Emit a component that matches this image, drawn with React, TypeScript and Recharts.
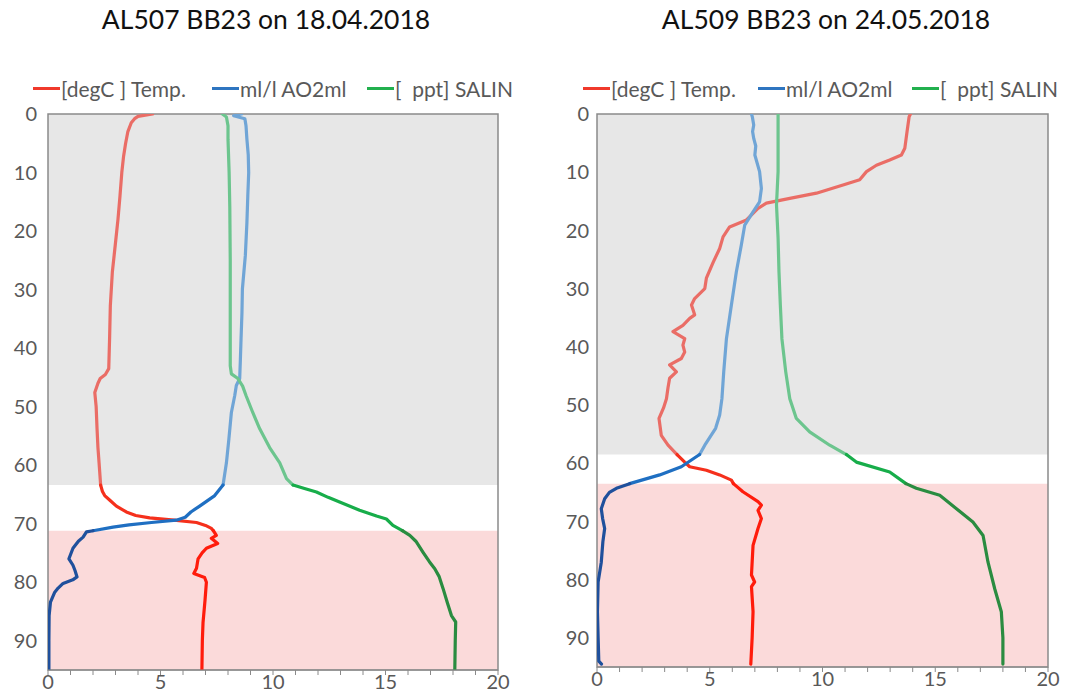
import React from 'react';
import { LineChart, Line, XAxis, YAxis, ReferenceArea } from 'recharts';

// ---------- shared axis ticks ----------
const X_TICKS = [0, 1, 2, 3, 4, 5, 6, 7, 8, 9, 10, 11, 12, 13, 14, 15, 16, 17, 18, 19, 20];
const Y_TICKS = [0, 10, 20, 30, 40, 50, 60, 70, 80, 90];
const LEGEND_LABELS = ['[degC ] Temp.', 'ml/l AO2ml', '[  ppt] SALIN'];

// ---------- left profile: AL507 BB23 on 18.04.2018 ----------
const L_TITLE = 'AL507 BB23 on 18.04.2018';
const L_BANDS = [63.4, 71.2]; // end of grey zone, start of pink zone (depth m)

const L_TEMP_D = [0, 0.4, 0.8, 1.5, 3, 5, 7.2, 10, 14, 18, 22, 27, 32.8, 38, 43.5, 44.5, 45.2, 46, 47.6, 50, 53.8, 57, 59.6, 63.4, 64.5, 65.2, 66, 67, 68, 68.6, 69, 69.4, 69.8, 70.3, 70.8, 71.2, 72, 72.5, 73.4, 74.2, 75, 76, 77.6, 78.5, 79.2, 80, 83, 86.9, 90, 95];
const L_TEMP_V = [4.65, 4.0, 3.85, 3.7, 3.55, 3.45, 3.36, 3.28, 3.2, 3.11, 3.0, 2.86, 2.77, 2.74, 2.7, 2.55, 2.32, 2.22, 2.08, 2.14, 2.18, 2.22, 2.27, 2.34, 2.42, 2.52, 2.75, 3.04, 3.48, 3.9, 4.52, 5.6, 6.6, 7.0, 7.26, 7.35, 7.48, 7.26, 7.54, 7.04, 6.85, 6.67, 6.6, 6.48, 6.96, 7.04, 6.98, 6.89, 6.86, 6.84];

const L_O2_D = [0, 0.3, 0.8, 2, 4.3, 7, 10, 14, 18.6, 24.2, 29.9, 34, 38.4, 42, 45.2, 46.4, 48.1, 51, 55.5, 59.6, 63.4, 65.2, 67, 68, 68.9, 69.4, 69.8, 70.2, 70.6, 71.2, 71.4, 72.3, 73, 74.2, 76, 77.1, 78, 79.1, 79.6, 80.2, 81, 81.7, 83.4, 85.7, 90, 95];
const L_O2_V = [8.6, 8.25, 8.75, 8.8, 8.84, 8.9, 8.92, 8.88, 8.84, 8.77, 8.64, 8.62, 8.58, 8.55, 8.52, 8.37, 8.3, 8.15, 8.04, 7.93, 7.78, 7.41, 6.74, 6.35, 6.1, 5.7, 4.6, 3.6, 2.89, 2.0, 1.71, 1.56, 1.35, 1.11, 0.93, 1.11, 1.2, 1.29, 1.1, 0.67, 0.45, 0.3, 0.11, 0.05, 0.04, 0.04];

const L_SAL_D = [0, 0.5, 2, 4.3, 10, 15.9, 25, 32.8, 43, 44.4, 45.2, 46.5, 48.1, 51, 53.8, 57, 59.6, 62.3, 63.4, 64, 64.6, 65.5, 66.3, 67.7, 68.7, 69.2, 70.3, 71.2, 72, 73, 74.9, 76.5, 77.7, 79, 81.1, 83.5, 85.7, 86.8, 90, 95];
const L_SAL_V = [7.75, 7.93, 8.0, 8.0, 8.05, 8.08, 8.1, 8.1, 8.1, 8.15, 8.44, 8.65, 8.8, 9.1, 9.41, 9.85, 10.3, 10.6, 10.89, 11.4, 11.93, 12.45, 12.96, 13.85, 14.6, 15.04, 15.33, 15.75, 16.08, 16.35, 16.67, 16.95, 17.19, 17.38, 17.56, 17.75, 17.93, 18.12, 18.1, 18.08];

// ---------- right profile: AL509 BB23 on 24.05.2018 ----------
const R_TITLE = 'AL509 BB23 on 24.05.2018';
const R_BANDS = [58.5, 63.5];

const R_TEMP_D = [0, 0.5, 3, 5.9, 7.05, 7.9, 8.8, 9.9, 11.3, 12.2, 13.6, 14.5, 15.3, 16.2, 18.2, 19.4, 21.1, 23.1, 25.5, 28.2, 30, 31.7, 32.8, 34.5, 35.1, 36.3, 37.4, 38.6, 39.7, 40.9, 42, 43.1, 44.3, 45.4, 47, 48.9, 50.5, 52.3, 55.2, 56.9, 58.5, 59.8, 60.6, 61.2, 62, 62.9, 63.5, 64.9, 66.6, 67.2, 68.1, 69.5, 71.2, 74.1, 79.2, 80.4, 81.2, 85.5, 90, 94.5];
const R_TEMP_V = [13.9, 13.84, 13.75, 13.65, 13.5, 12.98, 12.39, 11.95, 11.65, 10.91, 9.73, 8.55, 7.51, 7.14, 6.63, 5.88, 5.59, 5.44, 5.15, 4.85, 4.78, 4.33, 4.19, 4.33, 4.11, 3.81, 3.37, 3.89, 3.81, 3.89, 3.74, 3.22, 3.52, 3.22, 3.15, 3.08, 2.95, 2.75, 2.85, 3.15, 3.55, 3.89, 4.11, 4.85, 5.44, 5.96, 6.05, 6.47, 7.14, 7.29, 7.14, 7.29, 7.14, 6.92, 6.85, 6.99, 6.85, 6.92, 6.88, 6.82];

const R_O2_D = [0, 0.5, 1.9, 3, 4.2, 5.5, 7.05, 9.9, 12.8, 15.1, 16.8, 19.1, 22.5, 27.1, 32.8, 38.6, 44.3, 48.9, 51.7, 54, 56.9, 58.5, 60.6, 62, 63.5, 64.3, 65, 66.1, 67.8, 69.5, 71.2, 73.5, 77, 80.4, 85.5, 90, 94, 94.5];
const R_O2_V = [6.85, 6.89, 6.95, 6.9, 6.95, 7.04, 7.0, 7.21, 7.29, 7.21, 6.92, 6.55, 6.4, 6.18, 5.96, 5.74, 5.62, 5.54, 5.44, 5.26, 4.78, 4.55, 3.74, 2.78, 1.45, 0.86, 0.55, 0.34, 0.19, 0.25, 0.34, 0.26, 0.19, 0.05, 0.02, 0.05, 0.08, 0.2];

const R_SAL_D = [0, 0.5, 9.9, 15.6, 21.3, 27.1, 32.8, 38.6, 44.3, 48.9, 52.3, 54.6, 56.9, 58.5, 59.8, 61.5, 63.5, 64.3, 65.5, 67.8, 70.1, 72.4, 77, 81.6, 85.5, 90, 94.5];
const R_SAL_V = [8.03, 8.03, 8.03, 7.96, 8.03, 8.07, 8.13, 8.2, 8.37, 8.55, 8.84, 9.43, 10.32, 11.06, 11.5, 12.98, 13.7, 14.16, 15.2, 15.94, 16.67, 17.12, 17.34, 17.64, 17.93, 18.0, 18.0];

// ---------- styling ----------
const FONT = 'Lato, "Open Sans", sans-serif';
const TEXT_GREY = '#595959';
const AXIS_GREY = '#8a8a8a';
const BAND_GREY = '#e7e7e7';
const BAND_PINK = '#fbdada';
// colours per series: [in grey zone, in white zone, in pink zone]
const TEMP_COLS = ['#ea6d66', '#f5301c', '#ff1c0c'];
const O2_COLS = ['#70a5d6', '#1f6fc2', '#1f509c'];
const SAL_COLS = ['#6cc58e', '#17ad4a', '#2a8c40'];
const LEGEND_COLS = ['#f0392b', '#2e75c0', '#22b04e'];

type Pt = { d: number; v: number };
const zip = (ds: number[], vs: number[]): Pt[] => ds.map((d, i) => ({ d, v: vs[i] }));
const split = (pts: Pt[], a: number, b: number): Pt[][] => [
  pts.filter((p) => p.d <= a),
  pts.filter((p) => p.d >= a && p.d <= b),
  pts.filter((p) => p.d >= b),
];

type ProfileProps = {
  left: number;
  title: string;
  titleCenter: number;
  bands: number[];
  series: { pts: Pt[]; cols: string[] }[];
  yAxisWidth: number;
  marginRight: number;
  xAxisHeight: number;
  yTickMargin: number;
  legendX: number[];
};

function Profile(p: ProfileProps) {
  const [gEnd, pStart] = p.bands;
  return (
    <div style={{ position: 'absolute', left: p.left, top: 0, width: 533, height: 692 }}>
      <div
        style={{
          position: 'absolute',
          left: p.titleCenter - 250,
          width: 500,
          top: 3,
          textAlign: 'center',
          fontFamily: FONT,
          fontSize: 26.5,
          color: '#111',
          whiteSpace: 'pre',
        }}
      >
        {p.title}
      </div>
      {LEGEND_LABELS.map((lab, i) => (
        <div
          key={lab}
          style={{
            position: 'absolute',
            left: p.legendX[i],
            top: 76,
            height: 24,
            display: 'flex',
            alignItems: 'center',
            fontFamily: FONT,
            fontSize: 21,
            color: TEXT_GREY,
            whiteSpace: 'pre',
          }}
        >
          <span style={{ display: 'inline-block', width: 27, height: 3, background: LEGEND_COLS[i], marginRight: 1 }} />
          {lab}
        </div>
      ))}
      <div style={{ position: 'absolute', left: 0, top: 0 }}>
        <LineChart
          width={533}
          height={692}
          layout="vertical"
          margin={{ top: 114, right: p.marginRight, bottom: 0, left: 0 }}
          style={{ fontFamily: FONT }}
        >
          <XAxis
            type="number"
            dataKey="v"
            domain={[0, 20]}
            ticks={X_TICKS}
            interval={0}
            height={p.xAxisHeight}
            tickSize={5}
            tickMargin={0}
            stroke={AXIS_GREY}
            tickFormatter={(t: number) => (t % 5 === 0 ? String(t) : '')}
            tick={{ fontSize: 20, fill: TEXT_GREY, fontFamily: FONT }}
            allowDataOverflow
          />
          <YAxis
            type="number"
            dataKey="d"
            domain={[0, 95]}
            ticks={Y_TICKS}
            interval={0}
            width={p.yAxisWidth}
            tickLine={false}
            tickSize={0}
            tickMargin={p.yTickMargin}
            axisLine={false}
            tick={{ fontSize: 20, fill: TEXT_GREY, fontFamily: FONT }}
            allowDataOverflow
          />
          <ReferenceArea y1={0} y2={gEnd} x1={0} x2={20} fill={BAND_GREY} fillOpacity={1} stroke="none" />
          <ReferenceArea y1={pStart} y2={95} x1={0} x2={20} fill={BAND_PINK} fillOpacity={1} stroke="none" />
          <ReferenceArea y1={0} y2={95} x1={0} x2={20} fill="none" stroke={AXIS_GREY} strokeWidth={1.5} />
          {p.series.map((s, si) =>
            split(s.pts, gEnd, pStart).map((seg, zi) => (
              <Line
                key={`${si}-${zi}`}
                data={seg}
                dataKey="v"
                type="linear"
                stroke={s.cols[zi]}
                strokeWidth={3.2}
                strokeLinejoin="round"
                strokeLinecap="round"
                dot={false}
                activeDot={false}
                isAnimationActive={false}
              />
            ))
          )}
        </LineChart>
      </div>
    </div>
  );
}

export default function App() {
  const left = [
    { pts: zip(L_TEMP_D, L_TEMP_V), cols: TEMP_COLS },
    { pts: zip(L_O2_D, L_O2_V), cols: O2_COLS },
    { pts: zip(L_SAL_D, L_SAL_V), cols: SAL_COLS },
  ];
  const right = [
    { pts: zip(R_TEMP_D, R_TEMP_V), cols: TEMP_COLS },
    { pts: zip(R_O2_D, R_O2_V), cols: O2_COLS },
    { pts: zip(R_SAL_D, R_SAL_V), cols: SAL_COLS },
  ];
  return (
    <div style={{ position: 'absolute', left: 0, top: 0, width: 1066, height: 692, background: '#fff', overflow: 'hidden' }}>
      <Profile
        left={0}
        title={L_TITLE}
        titleCenter={266}
        bands={L_BANDS}
        series={left}
        yAxisWidth={48}
        marginRight={35}
        xAxisHeight={22}
        yTickMargin={11}
        legendX={[33, 212, 367]}
      />
      <Profile
        left={533}
        title={R_TITLE}
        titleCenter={293}
        bands={R_BANDS}
        series={right}
        yAxisWidth={64}
        marginRight={18}
        xAxisHeight={25}
        yTickMargin={8}
        legendX={[50, 225, 379]}
      />
    </div>
  );
}
